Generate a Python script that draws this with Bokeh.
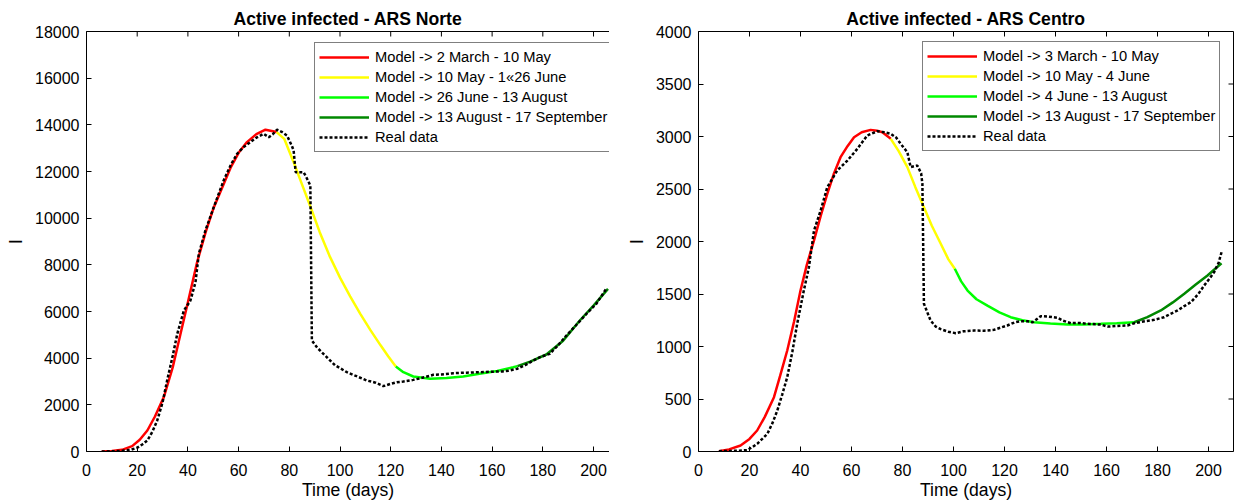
import math
from bokeh.plotting import figure
from bokeh.layouts import row
from bokeh.models import Range1d, LinearAxis, FixedTicker, Legend, LegendItem
from bokeh.embed import file_html
from bokeh.resources import INLINE

FONT = "Liberation Sans"

# ---------------- ARS Norte ----------------
norte_title = "Active infected - ARS Norte"
norte_labels = ["Model -> 2 March - 10 May", "Model -> 10 May - 1\u00ab26 June",
                "Model -> 26 June - 13 August", "Model -> 13 August - 17 September",
                "Real data"]
norte_red_x = [6, 10, 14, 18, 21, 24, 27, 30.5, 34, 37, 40, 43.6, 47, 50, 53.5, 57, 60, 63.3, 67, 70.6, 75]
norte_red_y = [0, 20, 70, 230, 500, 900, 1500, 2330, 3600, 5000, 6400, 8100, 9400, 10400, 11300,
               12200, 12800, 13260, 13600, 13790, 13690]
norte_yel_x = [75, 78, 81.7, 85, 88.3, 92, 96, 100, 104, 108, 112, 116, 119, 122]
norte_yel_y = [13690, 13400, 12400, 11450, 10500, 9400, 8350, 7450, 6650, 5900, 5200, 4550, 4080, 3643]
norte_lime_x = [122, 125, 128.9, 135.5, 142, 148.6, 155, 162, 168.3, 170]
norte_lime_y = [3643, 3400, 3214, 3114, 3150, 3214, 3330, 3450, 3614, 3660]
norte_dkg_x = [170, 175, 181.4, 188, 194.6, 200, 205.7]
norte_dkg_y = [3660, 3850, 4157, 4750, 5614, 6250, 6971]
norte_real_x = [6, 10, 14, 17.4, 20, 22, 24, 26, 27.9, 30, 31.8, 34, 35.8, 38.4, 41, 43, 44.3, 46.9,
                50.2, 54.1, 57, 59.4, 62, 64.6, 67, 69.9, 71.9, 73.5, 75.2, 77, 79.1, 81, 81.7, 82.5,
                85.6, 86.5, 88.3, 88.9, 91, 94.8, 98, 102.7, 106, 110.6, 114, 117.1, 120, 122.4, 125,
                128.9, 132, 136.8, 140, 144.7, 150, 155.2, 160, 164, 167, 170, 173, 176.2, 179, 182.7,
                186, 189.3, 193, 197.2, 201.1, 205]
norte_real_y = [0, 10, 30, 70, 160, 300, 470, 850, 1330, 2100, 3040, 4100, 5040, 6040, 6470, 7257, 8470,
                9470, 10470, 11614, 12300, 12757, 13050, 13257, 13450, 13614, 13470, 13600, 13790, 13700,
                13540, 13100, 12900, 11970, 11970, 11800, 11400, 4757, 4450, 4040, 3700, 3400, 3250, 3043,
                2950, 2800, 2900, 2970, 3000, 3070, 3150, 3286, 3300, 3357, 3380, 3400, 3420, 3430, 3471,
                3550, 3700, 3900, 4050, 4186, 4550, 4970, 5400, 5900, 6330, 6970]
norte_yticks = list(range(0, 18001, 2000))

# ---------------- ARS Centro ----------------
centro_title = "Active infected - ARS Centro"
centro_labels = ["Model -> 3 March - 10 May", "Model -> 10 May - 4 June",
                 "Model -> 4 June - 13 August", "Model -> 13 August - 17 September",
                 "Real data"]
centro_red_x = [8, 12, 16.5, 20, 23, 26, 29.6, 32, 34.8, 37.5, 40, 42.5, 45.3, 48, 50.5, 53, 55.7,
                58.5, 61, 64, 67.5, 70, 72.1, 75.4]
centro_red_y = [3, 20, 57, 120, 200, 330, 517, 720, 962, 1240, 1533, 1780, 2010, 2250, 2454, 2640,
                2803, 2910, 2993, 3040, 3063, 3055, 3041, 2978]
centro_yel_x = [75.4, 78.5, 81.9, 85, 88.4, 91.5, 95, 98, 100.5]
centro_yel_y = [2978, 2860, 2708, 2520, 2327, 2150, 1978, 1830, 1740]
centro_lime_x = [100.5, 103, 105.5, 109, 113.3, 118, 122.4, 127, 131.6, 138, 144.7, 151, 157.8, 164, 170.9]
centro_lime_y = [1740, 1620, 1533, 1450, 1390, 1325, 1279, 1250, 1231, 1218, 1209, 1210, 1216, 1222, 1231]
centro_dkg_x = [170.9, 176, 181.3, 186, 190.5, 195, 199.6, 205.1]
centro_dkg_y = [1231, 1280, 1343, 1420, 1502, 1590, 1676, 1793]
centro_real_x = [8, 12, 16, 19.1, 21, 23, 25, 27, 29, 30.9, 32.8, 34.8, 36.8, 38.7, 41.3, 43.3, 45.3,
                 47.9, 50.5, 54.4, 58.4, 62.3, 66.2, 70.1, 73, 75.4, 77.5, 79.3, 81.9, 83.2, 85.8, 87.3,
                 87.8, 88.4, 91, 93, 95, 98, 100.9, 104, 108, 112, 115.9, 118.5, 121.1, 124, 126.4, 129,
                 131, 134.2, 137, 140.8, 143, 146, 149, 152.6, 157.8, 160.4, 164, 168.2, 170.9, 175,
                 178.7, 182.6, 185, 187.9, 190.5, 193.1, 196, 198.3, 200.5, 202.2, 204, 205.1]
centro_real_y = [3, 5, 8, 13, 40, 73, 120, 168, 270, 390, 540, 708, 950, 1216, 1533, 1755, 2105, 2295,
                 2517, 2676, 2771, 2883, 3010, 3050, 3040, 3026, 2990, 2930, 2850, 2708, 2724, 2650, 2550,
                 1407, 1248, 1190, 1165, 1140, 1127, 1145, 1152, 1150, 1159, 1180, 1200, 1230, 1241, 1240,
                 1231, 1289, 1285, 1273, 1245, 1222, 1225, 1216, 1209, 1190, 1195, 1200, 1222, 1240, 1254,
                 1279, 1310, 1343, 1385, 1422, 1500, 1581, 1650, 1708, 1800, 1898]
centro_yticks = list(range(0, 4001, 500))

xticks = list(range(0, 201, 20))
colors = ["#ff0000", "#ffff00", "#00ff00", "#008800"]


def style_axis(ax, ticks):
    ax.ticker = FixedTicker(ticks=ticks)
    ax.major_tick_in = 5
    ax.major_tick_out = 0
    ax.minor_tick_line_color = None
    ax.axis_line_color = "black"
    ax.major_tick_line_color = "black"
    ax.major_label_text_font = FONT
    ax.major_label_text_color = "black"
    ax.major_label_text_font_size = "16px"
    ax.axis_label_text_font = FONT
    ax.axis_label_text_font_size = "17.6px"
    ax.axis_label_text_font_style = "normal"
    ax.axis_label_text_color = "black"


def frame_line(p, side):
    ax = LinearAxis(ticker=FixedTicker(ticks=[]))
    ax.major_tick_line_color = None
    ax.minor_tick_line_color = None
    ax.axis_line_color = "black"
    ax.major_label_text_font_size = "16px"
    p.add_layout(ax, side)


def make_plot(title, labels, segs, real, yticks, ymax, xmax, width, mb_left, mb_right,
              leg_loc, right_side):
    p = figure(width=width, height=503, x_range=Range1d(0, xmax), y_range=Range1d(0, ymax),
               output_backend="svg", toolbar_location=None,
               min_border_left=mb_left, min_border_right=mb_right,
               min_border_top=31, min_border_bottom=52)
    p.background_fill_color = "white"
    p.border_fill_color = "white"
    p.outline_line_color = None
    p.xgrid.visible = False
    p.ygrid.visible = False
    p.title.text = title
    p.title.align = "center"
    p.title.text_font = FONT
    p.title.text_font_size = "17.6px"
    p.title.text_font_style = "bold"
    p.title.text_color = "black"
    p.title.standoff = 6

    style_axis(p.xaxis[0], xticks)
    style_axis(p.yaxis[0], yticks)
    p.xaxis[0].axis_label = "Time (days)"
    p.xaxis[0].major_label_standoff = 12
    p.xaxis[0].axis_label_standoff = 1
    p.yaxis[0].axis_label = "I"
    p.yaxis[0].major_label_standoff = 7
    p.yaxis[0].axis_label_standoff = 6

    frame_line(p, "above")
    # inward tick marks along the top edge
    p.scatter(xticks, [ymax] * len(xticks), marker="dash", size=10, angle=math.pi / 2,
              line_color="black", line_width=1)
    if right_side:
        frame_line(p, "right")
        p.scatter([xmax] * len(yticks), yticks, marker="dash", size=10,
                  line_color="black", line_width=1)

    rends = []
    for (sx, sy), c in zip(segs, colors):
        rends.append(p.line(sx, sy, line_color=c, line_width=2.5))
    rends.append(p.line(real[0], real[1], line_color="black", line_width=2.5,
                        line_dash="3 2"))

    legend = Legend(items=[LegendItem(label=l, renderers=[r]) for l, r in zip(labels, rends)],
                    location=leg_loc)
    legend.label_text_font = FONT
    legend.label_text_font_size = "14.7px"
    legend.label_text_color = "black"
    legend.glyph_width = 50
    legend.glyph_height = 20
    legend.label_height = 20
    legend.label_standoff = 6
    legend.spacing = 0
    legend.padding = 4
    legend.margin = 0
    legend.border_line_color = "black"
    legend.border_line_width = 1
    legend.background_fill_color = "white"
    legend.background_fill_alpha = 1
    p.add_layout(legend)
    return p


p1 = make_plot(norte_title, norte_labels,
               [(norte_red_x, norte_red_y), (norte_yel_x, norte_yel_y),
                (norte_lime_x, norte_lime_y), (norte_dkg_x, norte_dkg_y)],
               (norte_real_x, norte_real_y), norte_yticks, 18000, 206.3,
               609, 86, 0, (228, 299), False)
p2 = make_plot(centro_title, centro_labels,
               [(centro_red_x, centro_red_y), (centro_yel_x, centro_yel_y),
                (centro_lime_x, centro_lime_y), (centro_dkg_x, centro_dkg_y)],
               (centro_real_x, centro_real_y), centro_yticks, 4000, 209.8,
               626, 89, 2, (224, 300), True)

layout = row(p1, p2, spacing=0)
open("out.html", "w").write(file_html(layout, INLINE))
